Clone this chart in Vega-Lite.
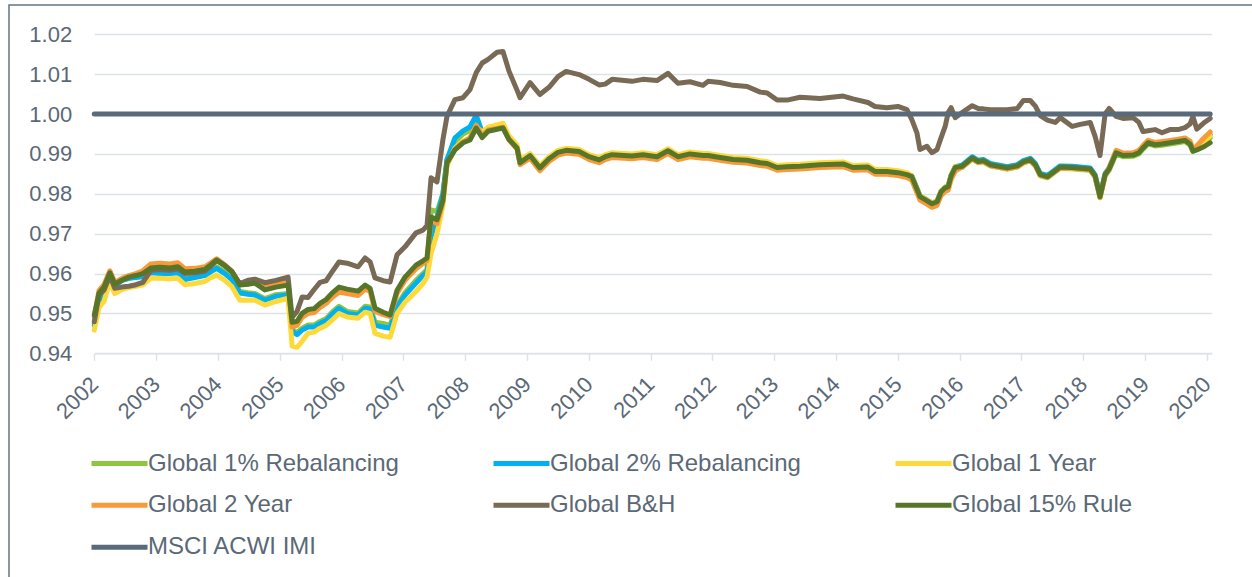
{
"$schema": "https://vega.github.io/schema/vega-lite/v6.json",
"width": 1243, "height": 572,
"autosize": {"type": "none"},
"padding": {"left": 9, "top": 5, "right": 0, "bottom": 0},
"background": "#ffffff",
"config": {"view": {"stroke": "#66757f", "strokeWidth": 1.5, "strokeDash": [1243, 1815, 572, 4]}, "font": "Liberation Sans"},
"data": {"values": [
{"d":"2002-01-01","a":0.9475,"b":0.9470,"c":0.9458,"e":0.9492,"f":0.9479,"g":0.9496,"m":1},
{"d":"2002-01-29","a":0.9535,"b":0.9528,"c":0.9515,"e":0.9558,"f":0.9546,"g":0.9551,"m":1},
{"d":"2002-02-27","a":0.9555,"b":0.9550,"c":0.9530,"e":0.9572,"f":0.9558,"g":0.9566,"m":1},
{"d":"2002-04-03","a":0.9600,"b":0.9597,"c":0.9580,"e":0.9607,"f":0.9594,"g":0.9602,"m":1},
{"d":"2002-05-02","a":0.9570,"b":0.9568,"c":0.9550,"e":0.9578,"f":0.9563,"g":0.9574,"m":1},
{"d":"2002-06-13","a":0.9583,"b":0.9583,"c":0.9560,"e":0.9588,"f":0.9566,"g":0.9583,"m":1},
{"d":"2002-07-24","a":0.9588,"b":0.9588,"c":0.9565,"e":0.9595,"f":0.9568,"g":0.9591,"m":1},
{"d":"2002-09-04","a":0.9592,"b":0.9590,"c":0.9568,"e":0.9600,"f":0.9572,"g":0.9595,"m":1},
{"d":"2002-10-15","a":0.9595,"b":0.9592,"c":0.9572,"e":0.9607,"f":0.9578,"g":0.9600,"m":1},
{"d":"2002-12-01","a":0.9605,"b":0.9602,"c":0.9588,"e":0.9624,"f":0.9608,"g":0.9614,"m":1},
{"d":"2003-01-24","a":0.9603,"b":0.9600,"c":0.9588,"e":0.9626,"f":0.9610,"g":0.9616,"m":1},
{"d":"2003-03-24","a":0.9602,"b":0.9600,"c":0.9587,"e":0.9624,"f":0.9608,"g":0.9614,"m":1},
{"d":"2003-05-10","a":0.9604,"b":0.9602,"c":0.9588,"e":0.9627,"f":0.9612,"g":0.9617,"m":1},
{"d":"2003-06-20","a":0.9588,"b":0.9585,"c":0.9572,"e":0.9612,"f":0.9600,"g":0.9604,"m":1},
{"d":"2003-08-18","a":0.9592,"b":0.9590,"c":0.9575,"e":0.9613,"f":0.9602,"g":0.9606,"m":1},
{"d":"2003-10-16","a":0.9597,"b":0.9595,"c":0.9580,"e":0.9617,"f":0.9606,"g":0.9610,"m":1},
{"d":"2003-11-14","a":0.9606,"b":0.9603,"c":0.9588,"e":0.9625,"f":0.9616,"g":0.9620,"m":1},
{"d":"2003-12-25","a":0.9617,"b":0.9613,"c":0.9596,"e":0.9637,"f":0.9633,"g":0.9634,"m":1},
{"d":"2004-02-11","a":0.9604,"b":0.9600,"c":0.9583,"e":0.9622,"f":0.9620,"g":0.9620,"m":1},
{"d":"2004-03-24","a":0.9589,"b":0.9585,"c":0.9567,"e":0.9606,"f":0.9605,"g":0.9605,"m":1},
{"d":"2004-05-10","a":0.9555,"b":0.9551,"c":0.9533,"e":0.9572,"f":0.9575,"g":0.9571,"m":1},
{"d":"2004-06-27","a":0.9552,"b":0.9548,"c":0.9533,"e":0.9574,"f":0.9583,"g":0.9573,"m":1},
{"d":"2004-08-07","a":0.9550,"b":0.9546,"c":0.9533,"e":0.9578,"f":0.9586,"g":0.9576,"m":1},
{"d":"2004-10-05","a":0.9537,"b":0.9533,"c":0.9521,"e":0.9566,"f":0.9577,"g":0.9559,"m":1},
{"d":"2004-12-09","a":0.9547,"b":0.9543,"c":0.9530,"e":0.9574,"f":0.9583,"g":0.9566,"m":1},
{"d":"2005-02-19","a":0.9550,"b":0.9546,"c":0.9538,"e":0.9579,"f":0.9591,"g":0.9571,"m":1},
{"d":"2005-03-15","a":0.9460,"b":0.9455,"c":0.9418,"e":0.9466,"f":0.9490,"g":0.9478,"m":1},
{"d":"2005-04-13","a":0.9452,"b":0.9447,"c":0.9415,"e":0.9470,"f":0.9505,"g":0.9480,"m":1},
{"d":"2005-05-13","a":0.9463,"b":0.9458,"c":0.9430,"e":0.9490,"f":0.9541,"g":0.9500,"m":1},
{"d":"2005-06-17","a":0.9471,"b":0.9466,"c":0.9450,"e":0.9500,"f":0.9540,"g":0.9510,"m":1},
{"d":"2005-07-23","a":0.9471,"b":0.9466,"c":0.9453,"e":0.9502,"f":0.9560,"g":0.9512,"m":1},
{"d":"2005-08-27","a":0.9480,"b":0.9475,"c":0.9463,"e":0.9515,"f":0.9578,"g":0.9525,"m":1},
{"d":"2005-10-02","a":0.9487,"b":0.9482,"c":0.9470,"e":0.9525,"f":0.9582,"g":0.9535,"m":1},
{"d":"2005-11-06","a":0.9503,"b":0.9498,"c":0.9483,"e":0.9540,"f":0.9604,"g":0.9551,"m":1},
{"d":"2005-12-17","a":0.9518,"b":0.9513,"c":0.9500,"e":0.9553,"f":0.9629,"g":0.9566,"m":1},
{"d":"2006-02-03","a":0.9505,"b":0.9500,"c":0.9491,"e":0.9550,"f":0.9626,"g":0.9561,"m":1},
{"d":"2006-04-09","a":0.9501,"b":0.9496,"c":0.9488,"e":0.9545,"f":0.9617,"g":0.9556,"m":1},
{"d":"2006-05-20","a":0.9518,"b":0.9513,"c":0.9503,"e":0.9561,"f":0.9639,"g":0.9571,"m":1},
{"d":"2006-06-19","a":0.9516,"b":0.9511,"c":0.9500,"e":0.9555,"f":0.9629,"g":0.9563,"m":1},
{"d":"2006-07-18","a":0.9478,"b":0.9470,"c":0.9450,"e":0.9505,"f":0.9589,"g":0.9513,"m":1},
{"d":"2006-09-04","a":0.9475,"b":0.9466,"c":0.9443,"e":0.9497,"f":0.9582,"g":0.9503,"m":1},
{"d":"2006-10-15","a":0.9470,"b":0.9463,"c":0.9440,"e":0.9492,"f":0.9579,"g":0.9496,"m":1},
{"d":"2006-11-25","a":0.9520,"b":0.9516,"c":0.9500,"e":0.9550,"f":0.9647,"g":0.9558,"m":1},
{"d":"2007-01-11","a":0.9552,"b":0.9546,"c":0.9528,"e":0.9583,"f":0.9667,"g":0.9591,"m":1},
{"d":"2007-03-17","a":0.9583,"b":0.9576,"c":0.9555,"e":0.9612,"f":0.9702,"g":0.9621,"m":1},
{"d":"2007-04-27","a":0.9600,"b":0.9595,"c":0.9575,"e":0.9625,"f":0.9709,"g":0.9632,"m":1},
{"d":"2007-05-21","a":0.9610,"b":0.9604,"c":0.9591,"e":0.9632,"f":0.9720,"g":0.9639,"m":1},
{"d":"2007-06-14","a":0.9760,"b":0.9692,"c":0.9650,"e":0.9735,"f":0.9840,"g":0.9742,"m":1},
{"d":"2007-07-19","a":0.9755,"b":0.9740,"c":0.9700,"e":0.9725,"f":0.9830,"g":0.9735,"m":1},
{"d":"2007-08-23","a":0.9800,"b":0.9800,"c":0.9770,"e":0.9780,"f":0.9936,"g":0.9784,"m":1},
{"d":"2007-09-16","a":0.9886,"b":0.9886,"c":0.9870,"e":0.9875,"f":0.9994,"g":0.9878,"m":1},
{"d":"2007-11-02","a":0.9930,"b":0.9940,"c":0.9915,"e":0.9912,"f":1.0036,"g":0.9910,"m":1},
{"d":"2007-12-20","a":0.9950,"b":0.9958,"c":0.9932,"e":0.9930,"f":1.0041,"g":0.9928,"m":1},
{"d":"2008-01-30","a":0.9958,"b":0.9968,"c":0.9940,"e":0.9940,"f":1.0061,"g":0.9935,"m":1},
{"d":"2008-03-07","a":0.9985,"b":0.9997,"c":0.9968,"e":0.9972,"f":1.0104,"g":0.9965,"m":1},
{"d":"2008-04-11","a":0.9950,"b":0.9955,"c":0.9955,"e":0.9945,"f":1.0128,"g":0.9941,"m":1},
{"d":"2008-05-16","a":0.9960,"b":0.9962,"c":0.9967,"e":0.9960,"f":1.0137,"g":0.9957,"m":1},
{"d":"2008-07-08","a":0.9964,"b":0.9966,"c":0.9973,"e":0.9964,"f":1.0155,"g":0.9962,"m":1},
{"d":"2008-08-12","a":0.9967,"b":0.9968,"c":0.9977,"e":0.9967,"f":1.0157,"g":0.9965,"m":1},
{"d":"2008-09-17","a":0.9937,"b":0.9938,"c":0.9945,"e":0.9935,"f":1.0107,"g":0.9936,"m":1},
{"d":"2008-11-03","a":0.9915,"b":0.9916,"c":0.9922,"e":0.9912,"f":1.0060,"g":0.9915,"m":1},
{"d":"2008-11-21","a":0.9878,"b":0.9878,"c":0.9885,"e":0.9873,"f":1.0041,"g":0.9878,"m":1},
{"d":"2009-01-19","a":0.9896,"b":0.9897,"c":0.9901,"e":0.9889,"f":1.0079,"g":0.9896,"m":1},
{"d":"2009-03-18","a":0.9865,"b":0.9866,"c":0.9870,"e":0.9858,"f":1.0049,"g":0.9865,"m":1},
{"d":"2009-05-11","a":0.9888,"b":0.9889,"c":0.9893,"e":0.9881,"f":1.0067,"g":0.9888,"m":1},
{"d":"2009-07-03","a":0.9904,"b":0.9905,"c":0.9909,"e":0.9897,"f":1.0094,"g":0.9904,"m":1},
{"d":"2009-08-20","a":0.9909,"b":0.9910,"c":0.9914,"e":0.9902,"f":1.0107,"g":0.9909,"m":1},
{"d":"2009-11-05","a":0.9906,"b":0.9907,"c":0.9911,"e":0.9899,"f":1.0099,"g":0.9906,"m":1},
{"d":"2010-01-03","a":0.9893,"b":0.9894,"c":0.9898,"e":0.9886,"f":1.0087,"g":0.9893,"m":1},
{"d":"2010-03-03","a":0.9885,"b":0.9886,"c":0.9890,"e":0.9878,"f":1.0073,"g":0.9885,"m":1},
{"d":"2010-04-08","a":0.9893,"b":0.9894,"c":0.9898,"e":0.9886,"f":1.0075,"g":0.9893,"m":1},
{"d":"2010-05-19","a":0.9898,"b":0.9899,"c":0.9903,"e":0.9891,"f":1.0087,"g":0.9898,"m":1},
{"d":"2010-09-13","a":0.9895,"b":0.9896,"c":0.9900,"e":0.9888,"f":1.0082,"g":0.9895,"m":1},
{"d":"2010-11-17","a":0.9898,"b":0.9899,"c":0.9903,"e":0.9891,"f":1.0087,"g":0.9898,"m":1},
{"d":"2011-02-08","a":0.9893,"b":0.9894,"c":0.9898,"e":0.9886,"f":1.0084,"g":0.9893,"m":1},
{"d":"2011-04-14","a":0.9908,"b":0.9909,"c":0.9913,"e":0.9901,"f":1.0102,"g":0.9908,"m":1},
{"d":"2011-06-12","a":0.9893,"b":0.9894,"c":0.9898,"e":0.9886,"f":1.0077,"g":0.9893,"m":1},
{"d":"2011-08-22","a":0.9900,"b":0.9901,"c":0.9905,"e":0.9893,"f":1.0081,"g":0.9900,"m":1},
{"d":"2011-11-07","a":0.9896,"b":0.9897,"c":0.9901,"e":0.9889,"f":1.0072,"g":0.9896,"m":1},
{"d":"2011-12-07","a":0.9896,"b":0.9897,"c":0.9901,"e":0.9889,"f":1.0082,"g":0.9896,"m":1},
{"d":"2012-02-16","a":0.9891,"b":0.9892,"c":0.9896,"e":0.9884,"f":1.0079,"g":0.9891,"m":1},
{"d":"2012-05-03","a":0.9886,"b":0.9887,"c":0.9891,"e":0.9879,"f":1.0072,"g":0.9886,"m":1},
{"d":"2012-07-25","a":0.9884,"b":0.9885,"c":0.9889,"e":0.9877,"f":1.0069,"g":0.9884,"m":1},
{"d":"2012-10-10","a":0.9878,"b":0.9879,"c":0.9883,"e":0.9871,"f":1.0055,"g":0.9878,"m":1},
{"d":"2012-11-20","a":0.9876,"b":0.9877,"c":0.9881,"e":0.9869,"f":1.0053,"g":0.9876,"m":1},
{"d":"2013-01-18","a":0.9866,"b":0.9867,"c":0.9871,"e":0.9859,"f":1.0035,"g":0.9866,"m":1},
{"d":"2013-03-18","a":0.9868,"b":0.9869,"c":0.9873,"e":0.9861,"f":1.0035,"g":0.9868,"m":1},
{"d":"2013-06-03","a":0.9869,"b":0.9870,"c":0.9874,"e":0.9862,"f":1.0042,"g":0.9869,"m":1},
{"d":"2013-09-29","a":0.9873,"b":0.9874,"c":0.9878,"e":0.9866,"f":1.0039,"g":0.9873,"m":1},
{"d":"2014-02-12","a":0.9875,"b":0.9876,"c":0.9880,"e":0.9868,"f":1.0045,"g":0.9875,"m":1},
{"d":"2014-04-11","a":0.9866,"b":0.9867,"c":0.9871,"e":0.9859,"f":1.0038,"g":0.9866,"m":1},
{"d":"2014-07-09","a":0.9867,"b":0.9868,"c":0.9872,"e":0.9860,"f":1.0029,"g":0.9867,"m":1},
{"d":"2014-08-19","a":0.9856,"b":0.9857,"c":0.9861,"e":0.9849,"f":1.0019,"g":0.9856,"m":1},
{"d":"2014-10-29","a":0.9856,"b":0.9857,"c":0.9861,"e":0.9849,"f":1.0016,"g":0.9856,"m":1},
{"d":"2015-01-02","a":0.9853,"b":0.9854,"c":0.9858,"e":0.9846,"f":1.0019,"g":0.9853,"m":1},
{"d":"2015-02-24","a":0.9848,"b":0.9849,"c":0.9853,"e":0.9841,"f":1.0011,"g":0.9848,"m":1},
{"d":"2015-03-25","a":0.9843,"b":0.9845,"c":0.9845,"e":0.9834,"f":0.9986,"g":0.9843,"m":1},
{"d":"2015-04-24","a":0.9812,"b":0.9814,"c":0.9814,"e":0.9803,"f":0.9953,"g":0.9812,"m":1},
{"d":"2015-05-12","a":0.9793,"b":0.9795,"c":0.9795,"e":0.9784,"f":0.9911,"g":0.9793,"m":1},
{"d":"2015-06-22","a":0.9783,"b":0.9785,"c":0.9785,"e":0.9774,"f":0.9919,"g":0.9783,"m":1},
{"d":"2015-07-22","a":0.9775,"b":0.9777,"c":0.9777,"e":0.9766,"f":0.9903,"g":0.9775,"m":1},
{"d":"2015-08-21","a":0.9780,"b":0.9782,"c":0.9782,"e":0.9771,"f":0.9911,"g":0.9780,"m":1},
{"d":"2015-09-14","a":0.9805,"b":0.9807,"c":0.9807,"e":0.9796,"f":0.9941,"g":0.9805,"m":1},
{"d":"2015-10-08","a":0.9815,"b":0.9817,"c":0.9817,"e":0.9806,"f":0.9969,"g":0.9815,"m":1},
{"d":"2015-10-26","a":0.9818,"b":0.9820,"c":0.9820,"e":0.9809,"f":1.0004,"g":0.9818,"m":1},
{"d":"2015-11-12","a":0.9845,"b":0.9847,"c":0.9847,"e":0.9836,"f":1.0016,"g":0.9845,"m":1},
{"d":"2015-12-06","a":0.9866,"b":0.9868,"c":0.9868,"e":0.9857,"f":0.9991,"g":0.9866,"m":1},
{"d":"2016-01-16","a":0.9866,"b":0.9872,"c":0.9867,"e":0.9867,"f":1.0004,"g":0.9869,"m":1},
{"d":"2016-03-16","a":0.9887,"b":0.9893,"c":0.9888,"e":0.9888,"f":1.0021,"g":0.9890,"m":1},
{"d":"2016-04-20","a":0.9878,"b":0.9884,"c":0.9879,"e":0.9879,"f":1.0014,"g":0.9881,"m":1},
{"d":"2016-05-20","a":0.9880,"b":0.9886,"c":0.9881,"e":0.9881,"f":1.0013,"g":0.9883,"m":1},
{"d":"2016-06-30","a":0.9870,"b":0.9876,"c":0.9871,"e":0.9871,"f":1.0011,"g":0.9873,"m":1},
{"d":"2016-10-08","a":0.9862,"b":0.9868,"c":0.9863,"e":0.9863,"f":1.0011,"g":0.9865,"m":1},
{"d":"2016-12-07","a":0.9867,"b":0.9873,"c":0.9868,"e":0.9868,"f":1.0014,"g":0.9870,"m":1},
{"d":"2017-01-12","a":0.9877,"b":0.9883,"c":0.9878,"e":0.9878,"f":1.0034,"g":0.9880,"m":1},
{"d":"2017-02-22","a":0.9883,"b":0.9889,"c":0.9884,"e":0.9884,"f":1.0034,"g":0.9886,"m":1},
{"d":"2017-03-24","a":0.9870,"b":0.9876,"c":0.9871,"e":0.9871,"f":1.0020,"g":0.9873,"m":1},
{"d":"2017-04-22","a":0.9845,"b":0.9851,"c":0.9846,"e":0.9846,"f":0.9996,"g":0.9848,"m":1},
{"d":"2017-06-03","a":0.9840,"b":0.9846,"c":0.9841,"e":0.9841,"f":0.9985,"g":0.9843,"m":1},
{"d":"2017-07-20","a":0.9855,"b":0.9861,"c":0.9856,"e":0.9856,"f":0.9979,"g":0.9858,"m":1},
{"d":"2017-08-18","a":0.9864,"b":0.9870,"c":0.9865,"e":0.9865,"f":0.9991,"g":0.9867,"m":1},
{"d":"2017-10-28","a":0.9863,"b":0.9869,"c":0.9864,"e":0.9864,"f":0.9969,"g":0.9866,"m":1},
{"d":"2017-12-14","a":0.9861,"b":0.9867,"c":0.9862,"e":0.9862,"f":0.9974,"g":0.9864,"m":1},
{"d":"2018-02-11","a":0.9859,"b":0.9865,"c":0.9860,"e":0.9860,"f":0.9979,"g":0.9862,"m":1},
{"d":"2018-03-12","a":0.9842,"b":0.9848,"c":0.9843,"e":0.9843,"f":0.9944,"g":0.9845,"m":1},
{"d":"2018-04-10","a":0.9790,"b":0.9796,"c":0.9791,"e":0.9791,"f":0.9896,"g":0.9793,"m":1},
{"d":"2018-05-10","a":0.9845,"b":0.9851,"c":0.9846,"e":0.9846,"f":1.0000,"g":0.9848,"m":1},
{"d":"2018-06-03","a":0.9859,"b":0.9865,"c":0.9862,"e":0.9866,"f":1.0014,"g":0.9862,"m":1},
{"d":"2018-07-14","a":0.9900,"b":0.9905,"c":0.9906,"e":0.9909,"f":0.9994,"g":0.9903,"m":1},
{"d":"2018-08-24","a":0.9893,"b":0.9898,"c":0.9899,"e":0.9902,"f":0.9989,"g":0.9896,"m":1},
{"d":"2018-10-22","a":0.9894,"b":0.9899,"c":0.9900,"e":0.9903,"f":0.9991,"g":0.9897,"m":1},
{"d":"2018-11-26","a":0.9900,"b":0.9905,"c":0.9906,"e":0.9909,"f":0.9979,"g":0.9903,"m":1},
{"d":"2018-12-20","a":0.9912,"b":0.9917,"c":0.9918,"e":0.9921,"f":0.9956,"g":0.9915,"m":1},
{"d":"2019-01-19","a":0.9925,"b":0.9930,"c":0.9931,"e":0.9934,"f":0.9958,"g":0.9928,"m":1},
{"d":"2019-03-01","a":0.9920,"b":0.9925,"c":0.9926,"e":0.9929,"f":0.9961,"g":0.9923,"m":1},
{"d":"2019-04-11","a":0.9922,"b":0.9927,"c":0.9928,"e":0.9931,"f":0.9953,"g":0.9925,"m":1},
{"d":"2019-05-28","a":0.9925,"b":0.9930,"c":0.9931,"e":0.9934,"f":0.9961,"g":0.9928,"m":1},
{"d":"2019-07-15","a":0.9928,"b":0.9933,"c":0.9934,"e":0.9937,"f":0.9961,"g":0.9931,"m":1},
{"d":"2019-08-25","a":0.9931,"b":0.9936,"c":0.9937,"e":0.9940,"f":0.9966,"g":0.9934,"m":1},
{"d":"2019-09-24","a":0.9922,"b":0.9928,"c":0.9929,"e":0.9932,"f":0.9975,"g":0.9925,"m":1},
{"d":"2019-10-11","a":0.9906,"b":0.9910,"c":0.9908,"e":0.9913,"f":0.9994,"g":0.9907,"m":1},
{"d":"2019-11-03","a":0.9912,"b":0.9917,"c":0.9916,"e":0.9920,"f":0.9962,"g":0.9910,"m":1},
{"d":"2019-12-15","a":0.9928,"b":0.9935,"c":0.9932,"e":0.9940,"f":0.9978,"g":0.9918,"m":1},
{"d":"2020-01-21","a":0.9940,"b":0.9948,"c":0.9945,"e":0.9955,"f":0.9989,"g":0.9928,"m":1}
]},
"transform": [
{"fold": ["a","b","c","e","f","g","m"], "as": ["k","v"]},
{"lookup": "k", "from": {"data": {"values": [
{"k":"a","name":"Global 1% Rebalancing"},
{"k":"b","name":"Global 2% Rebalancing"},
{"k":"c","name":"Global 1 Year"},
{"k":"e","name":"Global 2 Year"},
{"k":"f","name":"Global B&H"},
{"k":"g","name":"Global 15% Rule"},
{"k":"m","name":"MSCI ACWI IMI"}
]}, "key": "k", "fields": ["name"]}}
],
"mark": {"type": "line", "strokeJoin": "round", "strokeCap": "round"},
"encoding": {
"x": {"field": "d", "type": "temporal",
 "scale": {"type": "utc", "domain": [{"year":2002,"month":1,"date":1,"utc":true},{"year":2020,"month":1,"date":30,"utc":true}], "range": [85.3, 1202.7]},
 "axis": {"orient": "bottom", "offset": -223.7, "format": "%Y", "formatType": "utc", "tickCount": {"interval": "year", "step": 1},
  "labelAngle": -45, "labelAlign": "right", "labelBaseline": "middle", "labelPadding": 20, "labelFontSize": 22, "labelColor": "#5b6977", "labelFont": "Liberation Sans",
  "labelFlush": false, "labelOverlap": false, "domainColor": "#dde2e7", "domainWidth": 1.5, "tickColor": "#dde2e7", "tickWidth": 1.5, "tickSize": 7, "grid": false, "title": null}},
"y": {"field": "v", "type": "quantitative",
 "scale": {"domain": [0.94, 1.02], "range": [348.3, 29.3], "zero": false, "nice": false},
 "axis": {"orient": "left", "offset": -62.7, "values": [0.94,0.95,0.96,0.97,0.98,0.99,1.0,1.01,1.02], "format": ".2f",
  "grid": true, "gridColor": "#dde2e7", "gridWidth": 1.5, "domain": false, "ticks": false, "tickSize": 0, "labelPadding": 0,
  "labelFontSize": 22, "labelColor": "#5b6977", "labelFont": "Liberation Sans", "title": null}},
"color": {"field": "name", "type": "nominal",
 "scale": {"domain": ["Global 1% Rebalancing","Global 2% Rebalancing","Global 1 Year","Global 2 Year","Global B&H","Global 15% Rule","MSCI ACWI IMI"],
  "range": ["#8DC63F","#00B0F0","#FDDA3A","#F89A38","#786A55","#57762A","#596A7A"]},
 "legend": {"orient": "none", "legendX": 80, "legendY": 437.5, "direction": "horizontal", "columns": 3, "gridAlign": "all",
  "symbolType": "stroke", "symbolSize": 3136, "symbolStrokeWidth": 6, "labelFontSize": 24, "labelColor": "#5b6977", "labelFont": "Liberation Sans",
  "labelLimit": 500, "labelOffset": -2, "columnPadding": 92, "rowPadding": 0, "clipHeight": 41.5, "padding": 0, "title": null}},
"strokeWidth": {"field": "name", "type": "nominal",
 "scale": {"domain": ["Global 1% Rebalancing","Global 2% Rebalancing","Global 1 Year","Global 2 Year","Global B&H","Global 15% Rule","MSCI ACWI IMI"],
  "range": [5,5,5,5,4.5,5.5,5.5]}, "legend": null}
}
}
